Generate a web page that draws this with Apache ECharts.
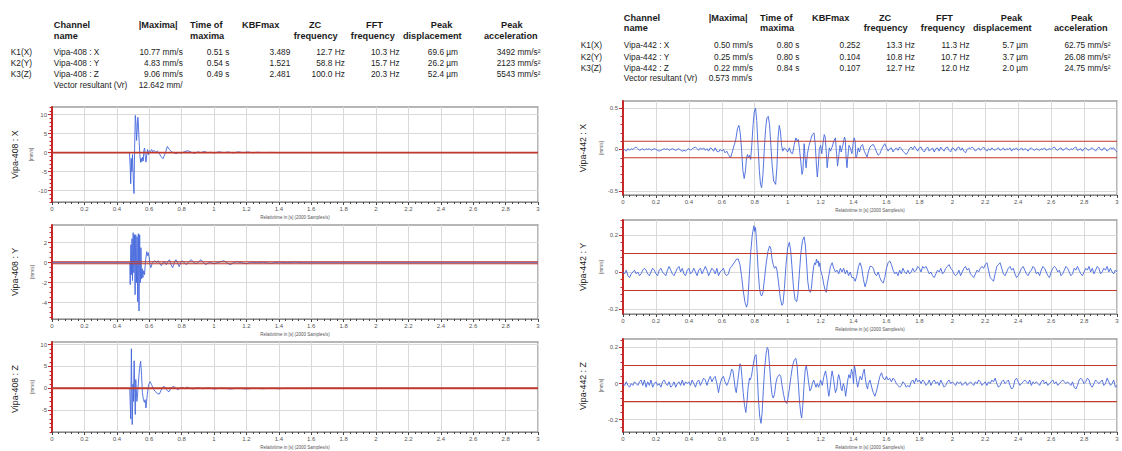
<!DOCTYPE html>
<html><head><meta charset="utf-8">
<script src="https://cdn.jsdelivr.net/npm/echarts@6/dist/echarts.min.js"></script>
<style>html,body{margin:0;padding:0;background:#fff}#c{width:1122px;height:451px}</style>
</head><body><div id="c"></div>
<script>
// ---------- table text ----------
const headerTop = ['Channel', '|Maxima|', 'Time of', 'KBFmax', 'ZC', 'FFT', 'Peak', 'Peak'];
const headerBottom = ['name', '', 'maxima', '', 'frequency', 'frequency', 'displacement', 'acceleration'];
const channelIds = ['K1(X)', 'K2(Y)', 'K3(Z)'];
const vectorLabel = 'Vector resultant (Vr)';
const leftNames = ['Vipa-408 : X', 'Vipa-408 : Y', 'Vipa-408 : Z'];
const leftMaxima = ['10.77 mm/s', '4.83 mm/s', '9.06 mm/s'];
const leftTimes = ['0.51 s', '0.54 s', '0.49 s'];
const leftKbf = ['3.489', '1.521', '2.481'];
const leftZc = ['12.7 Hz', '58.8 Hz', '100.0 Hz'];
const leftFft = ['10.3 Hz', '15.7 Hz', '20.3 Hz'];
const leftDisp = ['69.6 µm', '26.2 µm', '52.4 µm'];
const leftAcc = ['3492 mm/s²', '2123 mm/s²', '5543 mm/s²'];
const leftVector = '12.642 mm/';
const rightNames = ['Vipa-442 : X', 'Vipa-442 : Y', 'Vipa-442 : Z'];
const rightMaxima = ['0.50 mm/s', '0.25 mm/s', '0.22 mm/s'];
const rightTimes = ['0.80 s', '0.80 s', '0.84 s'];
const rightKbf = ['0.252', '0.104', '0.107'];
const rightZc = ['13.3 Hz', '10.8 Hz', '12.7 Hz'];
const rightFft = ['11.3 Hz', '10.7 Hz', '12.0 Hz'];
const rightDisp = ['5.7 µm', '3.7 µm', '2.0 µm'];
const rightAcc = ['62.75 mm/s²', '26.08 mm/s²', '24.75 mm/s²'];
const rightVector = '0.573 mm/s';

// ---------- axis text ----------
const xAxisName = 'Relativtime in [s] (2000 Samples/s)';
const yAxisUnit = '[mm/s]';
const xTicks = [0, 3, 0.2];
const thresholds = [-0.1, 0.1];
const l1Labels = [-10, -5, 0, 5, 10];
const l2Labels = [-4, -2, 0, 2];
const l3Labels = [-5, 0, 5, 10];
const r1Labels = [-0.5, 0, 0.5];
const r2Labels = [-0.2, 0, 0.2];
const r3Labels = [-0.2, 0, 0.2];

// ---------- Vipa-408 signals [t, mm/s] ----------
const l1X = [[0,0],[0.478,0],[0.482,-3],[0.486,-8.2],[0.489,-1.5],[0.493,-5],[0.497,-0.5],[0.502,-7],[0.506,-10.77],[0.510,1],[0.514,9.8],[0.518,8],[0.522,3.2],[0.526,6],[0.530,9.3],[0.534,6.8],[0.538,3],[0.542,-0.5],[0.547,-2.6],[0.551,-1.5],[0.555,-2.4],[0.559,-1.2],[0.563,-2.2],[0.568,0.8],[0.572,1.2],[0.576,-1],[0.580,-2.5],[0.585,-0.5],[0.590,0.8],[0.595,-0.6],[0.600,0.5],[0.608,0.2],[0.615,0.8],[0.622,0.2],[0.630,0.6],[0.640,0.1],[0.650,0.4],[0.660,0],[0.672,-1.0],[0.685,-1.6],[0.698,-0.3],[0.712,1.6],[0.725,0.8],[0.738,0.2],[0.752,0],[0.765,-0.3],[0.78,0],[0.8,-0.1],[0.82,0.3],[0.84,0.5],[0.86,0.1],[0.88,-0.2],[0.9,0.2],[0.92,0],[0.94,0.3],[0.96,0],[0.98,0.1],[1.0,-0.1],[1.03,0.2],[1.06,0],[1.09,0.15],[1.12,-0.1],[1.15,0.2],[1.18,0],[1.21,0.15],[1.24,-0.05],[1.27,0.1],[1.3,0],[1.35,0.05],[1.4,0],[3,0]];
const l2Y = [[0,0],[0.48,0],[0.483,-2.2],[0.487,1.8],[0.490,-1.2],[0.494,2.4],[0.497,-1.8],[0.501,3.0],[0.505,-1.0],[0.509,2.8],[0.513,-3.2],[0.517,2.8],[0.521,-2.0],[0.525,2.6],[0.529,-3.9],[0.533,2.9],[0.537,-4.83],[0.541,2.8],[0.545,-2.0],[0.549,1.5],[0.553,-1.6],[0.557,-0.6],[0.561,-1.5],[0.566,-0.8],[0.571,-1.2],[0.578,0.3],[0.585,1.1],[0.590,0.7],[0.595,1.0],[0.600,0.5],[0.605,-0.2],[0.610,-0.5],[0.618,-0.1],[0.625,0.1],[0.635,0.2],[0.645,0.0],[0.655,0.2],[0.665,-0.1],[0.675,-0.3],[0.685,0.0],[0.695,0.1],[0.705,-0.2],[0.715,0.1],[0.725,0.3],[0.735,-0.2],[0.745,-0.5],[0.755,0.0],[0.765,0.3],[0.775,0.0],[0.785,-0.4],[0.795,0.0],[0.805,0.2],[0.815,0.0],[0.83,-0.2],[0.845,0.1],[0.86,0.3],[0.875,0.0],[0.89,-0.1],[0.905,0.1],[0.92,0.3],[0.935,0.0],[0.95,-0.2],[0.965,0.0],[0.98,0.0],[1.0,-0.1],[1.02,0.0],[1.04,0.1],[1.06,0.2],[1.08,0.0],[1.1,-0.2],[1.12,0.0],[1.14,0.1],[1.17,0.0],[1.2,-0.1],[1.23,0.05],[1.27,0.0],[1.3,0.05],[1.35,-0.05],[1.4,0.05],[1.45,0.0],[1.5,0.05],[1.55,0.0],[3,0]];
const l3Z = [[0,0],[0.480,0],[0.486,-7],[0.490,9.06],[0.495,-8.3],[0.500,1],[0.503,-3],[0.507,6.3],[0.511,-1],[0.514,-6],[0.517,2],[0.520,0],[0.524,-3],[0.528,-1.5],[0.533,1],[0.540,4.5],[0.547,6.2],[0.553,3],[0.558,-1],[0.564,-2.5],[0.570,-3.2],[0.575,-2.6],[0.580,-4.5],[0.588,-1.5],[0.596,0.8],[0.606,1.5],[0.614,0.9],[0.624,0],[0.636,-0.7],[0.650,-1.2],[0.663,-1.3],[0.674,-0.4],[0.684,0.3],[0.694,0.4],[0.705,-0.2],[0.714,-0.6],[0.722,-0.8],[0.732,-0.1],[0.743,0.3],[0.755,0.4],[0.765,0],[0.776,-0.3],[0.79,0],[0.805,0.2],[0.82,-0.1],[0.833,0.3],[0.85,0],[0.87,-0.15],[0.9,0.1],[0.93,-0.1],[0.96,0.1],[1.0,-0.15],[1.05,0.05],[1.1,-0.15],[1.15,0],[1.2,-0.15],[1.25,0],[1.3,-0.1],[1.35,0],[1.4,-0.1],[1.45,0],[1.5,-0.05],[1.6,0],[3,0]];

// ---------- Vipa-442 signals ----------
// quiet sections: values every 0.01 s starting at the given time
const r1PreStart = 0.00;
const r1Pre = [-0.01,0.00,-0.02,0.01,-0.01,0.01,0.00,0.02,0.03,0.01,-0.01,0.00,0.01,-0.01,0.01,0.00,0.01,-0.01,0.00,0.01,0.00,-0.01,-0.02,-0.01,0.00,0.01,0.00,0.01,-0.01,0.00,0.01,0.00,-0.01,0.00,0.01,-0.01,-0.02,-0.01,-0.02,0.00,0.01,-0.01,0.01,0.02,0.03,0.01,-0.01,0.02,0.00,0.02,-0.01,0.01,-0.02,0.02,0.01,-0.02,0.02,-0.02,-0.03,0.00,-0.02,0.00,-0.04,-0.02,-0.06];
const r1Burst = [[0.653,-0.10],[0.665,-0.02],[0.675,0.05],[0.685,0.12],[0.695,0.25],[0.704,0.29],[0.712,0.2],[0.72,0],[0.728,-0.25],[0.736,-0.35],[0.744,-0.25],[0.750,-0.1],[0.756,-0.06],[0.762,-0.1],[0.768,-0.07],[0.775,-0.12],[0.782,0.05],[0.79,0.3],[0.797,0.45],[0.805,0.50],[0.812,0.35],[0.82,0.05],[0.828,-0.25],[0.835,-0.42],[0.842,-0.46],[0.85,-0.3],[0.858,0],[0.866,0.25],[0.874,0.38],[0.882,0.40],[0.89,0.3],[0.898,0.05],[0.906,-0.2],[0.915,-0.38],[0.927,-0.42],[0.935,-0.2],[0.942,0.15],[0.949,0.29],[0.956,0.22],[0.963,0.05],[0.97,-0.02],[0.98,0.02],[0.99,0],[1.0,-0.03],[1.01,0.02],[1.02,-0.04],[1.03,-0.05],[1.04,0.06],[1.05,0.14],[1.058,0.10],[1.065,0.12],[1.072,0],[1.08,-0.15],[1.087,-0.3],[1.093,-0.25],[1.1,0.07],[1.106,-0.1],[1.112,-0.22],[1.12,-0.05],[1.13,0.05],[1.14,0.12],[1.15,0.18],[1.16,0.2],[1.168,0.05],[1.175,-0.2],[1.18,-0.33],[1.186,-0.2],[1.192,0],[1.2,0.05],[1.207,-0.05],[1.215,0.08],[1.222,0.18],[1.228,0.15],[1.235,-0.05],[1.24,-0.22],[1.246,-0.1],[1.253,0.02],[1.26,-0.02],[1.27,0.03],[1.28,0.1],[1.29,0.14],[1.297,-0.05],[1.303,-0.2],[1.31,-0.08],[1.318,0.05],[1.325,-0.03],[1.335,0.05],[1.345,0.15],[1.35,0.12],[1.355,-0.1],[1.36,-0.22],[1.365,-0.1],[1.372,0.05],[1.38,0.02],[1.39,-0.05],[1.398,0.08],[1.404,0.14],[1.41,0.1],[1.414,-0.1],[1.42,-0.08],[1.428,0.02],[1.436,-0.03],[1.445,0.04],[1.455,0.06],[1.465,-0.02],[1.475,-0.06],[1.482,-0.09],[1.49,-0.03],[1.5,0.03]];
const r1PostStart = 1.51;
const r1Post = [0.05,0.06,0.02,-0.03,-0.07,-0.05,0.00,0.04,0.07,0.02,-0.02,0.01,0.02,-0.03,0.00,0.02,-0.01,0.03,0.01,-0.02,-0.04,-0.06,-0.03,0.01,0.03,0.00,0.04,0.01,-0.02,0.02,0.03,-0.01,-0.03,0.01,0.03,-0.02,0.00,0.02,-0.03,0.01,0.02,-0.02,0.03,0.00,-0.02,0.02,0.03,-0.01,-0.03,0.02,0.01,-0.02,0.02,0.03,-0.01,0.02,-0.02,-0.04,0.00,0.02,0.01,0.03,0.01,-0.02,0.00,0.02,-0.01,0.01,0.03,0.00,-0.02,0.01,-0.01,0.02,0.00,-0.01,0.01,0.02,-0.01,0.00,0.02,-0.01,0.01,0.00,0.02,-0.02,0.01,0.00,0.02,-0.01,0.00,0.02,-0.01,0.01,0.00,-0.02,0.01,0.02,0.00,-0.01,0.01,0.00,-0.01,0.01,0.00,0.02,-0.01,0.00,0.01,0.00,0.02,0.03,0.00,-0.01,0.01,0.02,-0.01,0.00,0.02,0.01,-0.01,0.01,0.00,0.02,0.03,-0.01,0.00,0.01,-0.02,0.01,0.02,0.00,-0.01,0.01,0.02,0.00,-0.02,0.01,0.03,0.00,-0.01,0.02,0.01,-0.02,0.00,0.02,0.01,0.02,-0.01,-0.03];

const r2PreStart = 0.00;
const r2Pre = [0.00,-0.01,0.01,-0.02,-0.03,-0.01,0.00,0.01,-0.01,0.00,-0.02,-0.01,0.01,0.02,0.01,-0.01,-0.02,0.00,0.02,0.01,-0.01,-0.02,0.01,0.02,0.00,-0.01,-0.02,0.01,0.03,0.01,-0.01,-0.02,0.00,0.02,0.03,0.00,0.02,-0.01,-0.02,0.01,0.02,-0.01,0.00,0.02,0.00,-0.02,0.01,0.02,-0.01,0.01,0.03,0.01,-0.02,0.00,0.02,0.01,-0.01,0.02,-0.02,0.00,0.01,0.02,-0.01,-0.02,-0.01,0.02];
const r2Burst = [[0.66,0.03],[0.675,0.05],[0.69,0.07],[0.70,0.07],[0.71,0.04],[0.72,-0.02],[0.73,-0.1],[0.74,-0.16],[0.75,-0.19],[0.757,-0.17],[0.765,-0.05],[0.775,0.1],[0.785,0.2],[0.795,0.25],[0.80,0.22],[0.805,0.24],[0.812,0.15],[0.82,0.02],[0.828,-0.08],[0.835,-0.12],[0.842,-0.13],[0.85,-0.11],[0.86,-0.03],[0.87,0.05],[0.88,0.11],[0.89,0.14],[0.897,0.13],[0.905,0.07],[0.912,0.04],[0.92,0.02],[0.928,0.03],[0.935,0.01],[0.945,-0.06],[0.955,-0.14],[0.965,-0.18],[0.972,-0.17],[0.98,-0.09],[0.99,0.04],[1.0,0.13],[1.01,0.16],[1.018,0.12],[1.025,0.04],[1.035,-0.08],[1.045,-0.15],[1.055,-0.16],[1.062,-0.12],[1.07,-0.02],[1.08,0.1],[1.09,0.17],[1.10,0.19],[1.108,0.14],[1.115,0.05],[1.122,-0.05],[1.13,-0.1],[1.138,-0.11],[1.144,-0.09],[1.15,-0.03],[1.158,0.03],[1.165,0.05],[1.17,0.04],[1.175,0.07],[1.18,0.05],[1.186,0.06],[1.19,0.03],[1.195,0.05],[1.2,0.01],[1.21,-0.02],[1.22,-0.07],[1.228,-0.1],[1.235,-0.11],[1.24,-0.07],[1.25,-0.02],[1.26,0.03],[1.27,0.05],[1.28,0.02],[1.29,0.0],[1.3,0.01],[1.31,-0.01],[1.32,0.02],[1.33,0.0],[1.34,0.02],[1.35,-0.01],[1.36,0.01],[1.37,-0.02],[1.38,0.0],[1.39,-0.03],[1.40,-0.03],[1.41,-0.05],[1.42,-0.02],[1.43,0.03],[1.44,0.05],[1.45,0.02],[1.46,-0.04],[1.47,-0.08],[1.48,-0.05],[1.49,0.0],[1.5,0.03]];
const r2PostStart = 1.51;
const r2Post = [0.03,0.02,-0.01,-0.02,0.00,-0.03,-0.05,-0.06,-0.03,0.02,0.05,0.06,0.04,0.01,-0.01,0.00,-0.02,0.01,-0.01,0.02,0.00,-0.01,0.01,-0.01,0.00,0.02,0.00,0.01,0.03,0.02,0.00,0.03,0.02,0.03,0.01,-0.01,0.00,-0.02,-0.03,-0.01,0.01,0.00,0.02,-0.01,0.00,0.02,0.03,0.04,0.02,0.01,-0.01,-0.02,-0.01,0.01,-0.02,0.00,0.02,0.03,0.01,0.02,-0.01,-0.02,-0.03,-0.01,0.01,0.00,0.02,0.03,0.02,0.04,0.05,0.01,-0.03,-0.04,-0.05,-0.01,0.03,0.04,0.05,0.02,-0.01,-0.02,0.00,0.02,0.03,0.01,0.02,-0.01,-0.03,-0.02,0.00,0.02,0.03,0.01,-0.01,-0.02,0.00,0.01,0.03,0.02,-0.01,0.00,-0.02,0.01,0.03,0.02,0.00,-0.02,-0.03,0.00,0.02,0.03,0.02,0.00,0.01,-0.02,-0.01,0.01,0.03,0.02,0.00,-0.02,-0.01,0.02,0.01,0.03,0.01,-0.01,-0.02,0.00,0.02,0.01,0.03,0.00,0.02,-0.01,0.01,0.03,0.02,-0.01,0.00,0.02,0.01,0.03,0.00,0.02,0.00,-0.01,0.01,0.00];

const r3PreStart = 0.00;
const r3Pre = [0.00,-0.01,0.01,-0.01,-0.02,0.00,-0.01,0.01,0.00,-0.01,0.01,0.02,-0.01,0.02,-0.02,0.01,-0.01,0.02,-0.02,0.00,0.01,-0.01,0.00,-0.02,0.01,0.02,0.00,-0.01,0.01,-0.02,-0.01,0.01,-0.02,0.00,0.01,-0.01,0.02,-0.01,0.01,0.00,0.01,-0.01,0.02,0.00,-0.02,0.01,0.02,-0.01,0.01,0.03,0.02,-0.01,0.02,0.04,0.01,0.03];
const r3Burst = [[0.56,0.04],[0.57,0.0],[0.58,-0.05],[0.59,0.0],[0.6,0.03],[0.61,0.04],[0.62,0.01],[0.63,-0.01],[0.64,0.01],[0.65,0.04],[0.66,0.08],[0.668,0.07],[0.675,0.02],[0.682,-0.03],[0.688,-0.05],[0.695,0.0],[0.703,0.06],[0.71,0.11],[0.716,0.10],[0.722,0.04],[0.73,-0.05],[0.738,-0.12],[0.746,-0.16],[0.753,-0.1],[0.76,-0.02],[0.768,0.03],[0.772,0.02],[0.78,0.04],[0.79,0.1],[0.8,0.15],[0.808,0.16],[0.815,0.06],[0.822,-0.08],[0.83,-0.18],[0.838,-0.22],[0.845,-0.16],[0.852,-0.04],[0.86,0.08],[0.868,0.16],[0.876,0.2],[0.882,0.19],[0.89,0.1],[0.898,0.0],[0.905,-0.06],[0.912,-0.08],[0.92,-0.06],[0.928,0.0],[0.935,0.03],[0.942,0.04],[0.95,0.05],[0.958,0.04],[0.966,-0.01],[0.975,-0.06],[0.985,-0.1],[0.995,-0.11],[1.0,-0.09],[1.01,-0.03],[1.02,0.04],[1.03,0.1],[1.04,0.13],[1.05,0.14],[1.057,0.1],[1.065,0.0],[1.072,-0.1],[1.08,-0.17],[1.085,-0.19],[1.092,-0.12],[1.1,0.0],[1.107,0.08],[1.113,0.1],[1.12,0.06],[1.128,0.0],[1.135,-0.04],[1.142,-0.03],[1.15,0.0],[1.158,0.02],[1.165,0.0],[1.172,-0.02],[1.18,0.0],[1.188,-0.02],[1.195,0.0],[1.2,0.02],[1.21,-0.01],[1.22,0.04],[1.23,0.07],[1.238,0.03],[1.245,-0.04],[1.25,-0.07],[1.258,-0.02],[1.265,0.04],[1.27,0.07],[1.278,0.03],[1.285,-0.02],[1.29,-0.05],[1.298,-0.03],[1.305,0.03],[1.31,0.05],[1.318,0.02],[1.325,-0.03],[1.33,-0.04],[1.338,0.0],[1.345,-0.02],[1.352,-0.07],[1.358,-0.03],[1.365,0.02],[1.372,0.05],[1.38,0.03],[1.388,0.08],[1.395,0.05],[1.4,0.0],[1.405,0.1],[1.41,0.08],[1.418,0.02],[1.425,-0.02],[1.432,0.01],[1.44,0.04],[1.45,0.02],[1.458,0.06],[1.465,0.08],[1.47,0.04],[1.478,-0.01],[1.485,-0.03],[1.49,0.0],[1.5,0.02]];
const r3PostStart = 1.51;
const r3Post = [-0.02,-0.05,-0.07,-0.04,0.00,0.04,0.06,0.03,0.02,0.04,0.02,0.03,0.01,0.03,0.02,0.00,-0.01,-0.02,-0.01,0.01,0.00,-0.02,-0.01,-0.02,0.01,0.02,0.00,0.03,0.01,0.02,0.00,0.02,0.01,-0.01,0.00,0.02,-0.01,0.01,0.02,0.00,0.01,-0.01,0.02,0.00,-0.02,-0.01,0.01,0.02,0.00,0.01,0.00,-0.01,0.01,0.00,0.01,-0.01,0.00,0.01,-0.01,0.00,0.01,0.00,-0.01,0.01,0.00,0.02,0.01,-0.01,0.00,0.01,-0.01,0.01,0.00,0.02,0.01,0.03,0.00,-0.02,-0.01,0.01,0.02,0.00,0.01,0.02,-0.01,-0.03,-0.02,0.02,0.03,0.01,-0.01,0.00,0.01,0.02,0.01,0.00,0.02,-0.01,0.01,0.00,0.01,0.00,-0.01,0.01,0.02,0.00,0.01,-0.01,0.00,0.01,0.02,0.00,0.01,-0.01,0.00,0.01,0.02,0.01,0.00,0.01,0.00,-0.01,0.01,-0.02,-0.03,-0.01,0.02,0.03,0.02,0.00,0.01,0.03,0.02,-0.01,-0.02,0.00,0.02,0.01,0.00,0.01,0.02,-0.01,0.00,0.03,0.01,-0.01,0.00,0.02,-0.02,-0.01];

function steps(t0, vals) { return vals.map((v, i) => [Math.round((t0 + i * 0.01) * 1000) / 1000, v]); }
const r1X = steps(r1PreStart, r1Pre).concat(r1Burst, steps(r1PostStart, r1Post));
const r2Y = steps(r2PreStart, r2Pre).concat(r2Burst, steps(r2PostStart, r2Post));
const r3Z = steps(r3PreStart, r3Pre).concat(r3Burst, steps(r3PostStart, r3Post));

// ---------- layout ----------
const FONT = '"Liberation Sans", Arial, sans-serif';
const RED = '#c62828';
const THR = '#c0392b';
const BLUE = '#4466dd';
const panels = [
  {grid: {left: 52, top: 107, width: 486, height: 95}, min: -13, max: 12, labels: l1Labels, minorStep: 1, data: l1X, title: leftNames[0], tx: 15},
  {grid: {left: 52, top: 225, width: 486, height: 94}, min: -5.63, max: 3.77, labels: l2Labels, minorStep: 0.5, data: l2Y, title: leftNames[1], tx: 15},
  {grid: {left: 52, top: 342, width: 486, height: 94}, min: -10, max: 10.6, labels: l3Labels, minorStep: 1, data: l3Z, title: leftNames[2], tx: 15},
  {grid: {left: 623, top: 101, width: 494, height: 94}, min: -0.548, max: 0.584, labels: r1Labels, minorStep: 0.1, data: r1X, title: rightNames[0], tx: 583},
  {grid: {left: 623, top: 220, width: 494, height: 94}, min: -0.227, max: 0.281, labels: r2Labels, minorStep: 0.04, data: r2Y, title: rightNames[1], tx: 583},
  {grid: {left: 623, top: 339, width: 494, height: 94}, min: -0.268, max: 0.247, labels: r3Labels, minorStep: 0.04, data: r3Z, title: rightNames[2], tx: 583}
];

function minorList(min, max, step) {
  const out = [];
  for (let k = Math.ceil(min / step - 1e-9); k * step <= max + 1e-9; k++) out.push(Math.round(k * step * 1000) / 1000);
  return out;
}

const grids = [], xAxes = [], yAxes = [], series = [], graphics = [];
panels.forEach((p, i) => {
  grids.push(Object.assign({show: true, borderColor: '#9e9e9e', borderWidth: 1.5, backgroundColor: '#fff'}, p.grid));
  xAxes.push({
    gridIndex: i, type: 'value', min: xTicks[0], max: xTicks[1], interval: xTicks[2],
    axisLine: {show: true, onZero: false, lineStyle: {color: '#8a8a8a', width: 1}},
    axisTick: {show: true, length: 3, lineStyle: {color: '#444'}},
    minorTick: {show: true, splitNumber: 5, length: 2, lineStyle: {color: '#444'}},
    axisLabel: {fontSize: 6, color: '#555', margin: 4, fontFamily: FONT},
    splitLine: {show: true, lineStyle: {color: '#d9d9d9', width: 1}},
    name: xAxisName, nameLocation: 'middle', nameGap: 13,
    nameTextStyle: {fontSize: 4.5, color: '#555', fontFamily: FONT}
  });
  yAxes.push({
    gridIndex: i, type: 'value', min: p.min, max: p.max, position: 'left',
    axisLine: {show: true, onZero: false, lineStyle: {color: RED, width: 2}},
    axisTick: {show: true, customValues: p.labels, length: 4, lineStyle: {color: RED}},
    axisLabel: {customValues: p.labels, fontSize: 6, color: '#555', margin: 5, fontFamily: FONT},
    splitLine: {show: true, lineStyle: {color: '#d9d9d9', width: 1}},
    name: yAxisUnit, nameLocation: 'middle', nameGap: 17,
    nameTextStyle: {fontSize: 4.5, color: '#555', fontFamily: FONT}
  });
  yAxes.push({
    gridIndex: i, type: 'value', min: p.min, max: p.max, position: 'left',
    axisLine: {show: false}, axisLabel: {show: false}, splitLine: {show: false},
    axisTick: {show: true, customValues: minorList(p.min, p.max, p.minorStep), length: 2.5, lineStyle: {color: RED}}
  });
  series.push({
    type: 'line', xAxisIndex: i, yAxisIndex: 2 * i, data: p.data, z: 3,
    showSymbol: false, symbol: 'none', animation: false, silent: true,
    itemStyle: {color: BLUE}, lineStyle: {color: BLUE, width: 0.9}
  });
  series.push({
    type: 'line', xAxisIndex: i, yAxisIndex: 2 * i, z: 4,
    data: [[xTicks[0], thresholds[0]], [xTicks[1], thresholds[0]], [null, null], [xTicks[0], thresholds[1]], [xTicks[1], thresholds[1]]],
    connectNulls: false,
    showSymbol: false, symbol: 'none', animation: false, silent: true,
    itemStyle: {color: THR}, lineStyle: {color: THR, width: 1.1}
  });
  graphics.push({type: 'text', x: p.tx, y: p.grid.top + p.grid.height / 2, rotation: Math.PI / 2, silent: true,
    style: {text: p.title, fill: '#222', fontSize: 8.8, fontFamily: FONT, align: 'center', verticalAlign: 'middle'}});
});

function txt(x, y, s, align, bold, size) {
  return {type: 'text', x: x, y: y, silent: true,
    style: {text: s, fill: '#1b1b1b', fontSize: size || 8.3, fontWeight: bold ? 'bold' : 'normal', fontFamily: FONT, align: align || 'left', verticalAlign: 'middle'}};
}
function table(x0, yH, rowYs, yV, names, maxima, times, kbf, zc, fft, disp, acc, vec) {
  const yH2 = yH + 10.8;
  const hx = [[53.8, 'left'], [138.7, 'left'], [190, 'left'], [242, 'left'], [315, 'center'], [374.5, 'center'], [441.6, 'center'], [511.8, 'center']];
  const hx2 = [[53.8, 'left'], [0, 'left'], [190, 'left'], [0, 'left'], [315.7, 'center'], [372.8, 'center'], [432.3, 'center'], [510.8, 'center']];
  headerTop.forEach((h, j) => graphics.push(txt(x0 + hx[j][0], yH, h, hx[j][1], true, 9.2)));
  headerBottom.forEach((h, j) => { if (h) graphics.push(txt(x0 + hx2[j][0], yH2, h, hx2[j][1], true, 9.2)); });
  channelIds.forEach((c, r) => {
    const y = rowYs[r];
    graphics.push(txt(x0 + 10.8, y, c, 'left'));
    graphics.push(txt(x0 + 53.8, y, names[r], 'left'));
    graphics.push(txt(x0 + 182.8, y, maxima[r], 'right'));
    graphics.push(txt(x0 + 229.4, y, times[r], 'right'));
    graphics.push(txt(x0 + 290.3, y, kbf[r], 'right'));
    graphics.push(txt(x0 + 344.8, y, zc[r], 'right'));
    graphics.push(txt(x0 + 399.6, y, fft[r], 'right'));
    graphics.push(txt(x0 + 458, y, disp[r], 'right'));
    graphics.push(txt(x0 + 540.5, y, acc[r], 'right'));
  });
  graphics.push(txt(x0 + 53.8, yV, vectorLabel, 'left'));
  graphics.push(txt(x0 + 138.7, yV, vec, 'left'));
}
table(0, 25, [52, 63, 74], 85, leftNames, leftMaxima, leftTimes, leftKbf, leftZc, leftFft, leftDisp, leftAcc, leftVector);
table(570, 17.5, [45, 56.5, 67.5], 78, rightNames, rightMaxima, rightTimes, rightKbf, rightZc, rightFft, rightDisp, rightAcc, rightVector);

const chart = echarts.init(document.getElementById('c'), null, {renderer: 'svg', width: 1122, height: 451});
chart.setOption({
  animation: false,
  backgroundColor: '#ffffff',
  grid: grids, xAxis: xAxes, yAxis: yAxes, series: series, graphic: graphics
});
</script></body></html>
